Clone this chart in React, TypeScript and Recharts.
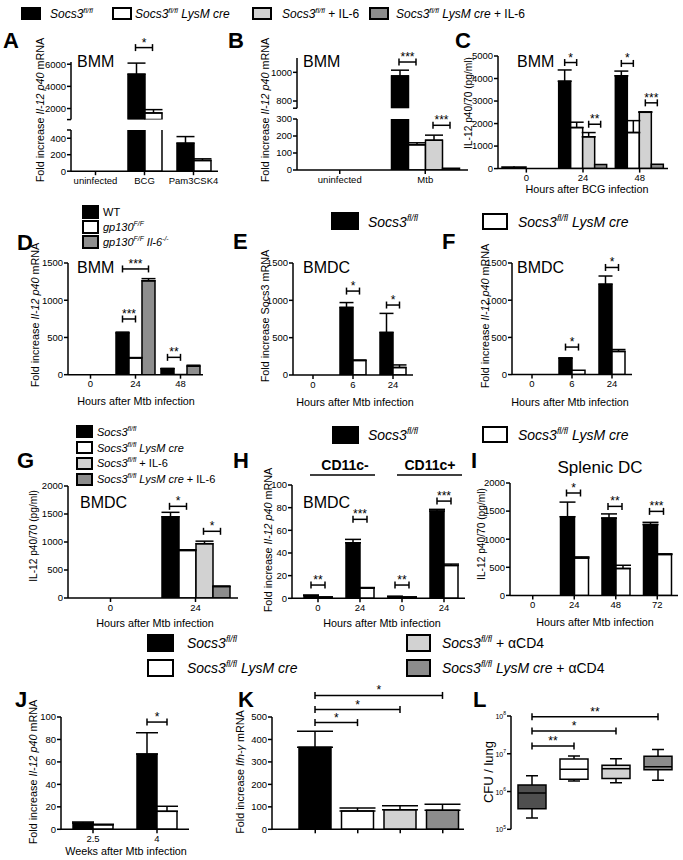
import React from 'react';
import { BarChart, ComposedChart, Bar, XAxis, YAxis, ErrorBar, ReferenceLine, Cell } from 'recharts';

const FONT = '"Liberation Sans", Arial, Helvetica, sans-serif';
const INK = '#000000';
const FLOX = '#000000';
const CRE = '#ffffff';
const IL6 = '#d2d2d2';
const CRE_IL6 = '#8c8c8c';
const GP_IL6 = '#8e8e8e';
const FLOX_BOX = '#4f4f4f';

// sig tuples: [cat1, series1, cat2, series2, y, stars]
type Sig = [number, number, number, number, number, string];

// A - BMM, BCG / Pam3CSK4
const aCats = ['uninfected', 'BCG', 'Pam3CSK4'];
const aFlox = [0, 5100, 340];
const aFloxSem = [0, 1000, 80];
const aCre = [0, 1600, 130];
const aCreSem = [0, 300, 20];
const aSigs: Sig[] = [[1, 0, 1, 1, 7500, '*']];

// B - BMM, Mtb
const bCats = ['uninfected', 'Mtb'];
const bFlox = [0, 975];
const bFloxSem = [0, 40];
const bCre = [0, 148];
const bCreSem = [0, 12];
const bIl6 = [0, 175];
const bIl6Sem = [0, 30];
const bCreIl6 = [0, 10];
const bSigsHigh: Sig[] = [[1, 0, 1, 1, 1072, '***']];
const bSigsLow: Sig[] = [[1, 2, 1, 3, 263, '***']];

// C - BMM IL-12 protein after BCG
const cCats = ['0', '24', '48'];
const cFlox = [70, 3880, 4120];
const cFloxSem = [0, 500, 210];
const cCre = [70, 1820, 1600];
const cCreSem = [0, 240, 530];
const cIl6 = [0, 1410, 2500];
const cIl6Sem = [0, 190, 20];
const cCreIl6 = [0, 180, 190];
const cSigs: Sig[] = [[1, 0, 1, 1, 4710, '*'], [1, 2, 1, 3, 1970, '**'], [2, 0, 2, 1, 4670, '*'], [2, 2, 2, 3, 2920, '***']];

// D - gp130 BMM
const dCats = ['0', '24', '48'];
const dWt = [0, 560, 80];
const dWtSem = [0, 12, 5];
const dGp = [0, 225, 3];
const dGpSem = [0, 5, 0];
const dGpIl6 = [0, 1260, 115];
const dGpIl6Sem = [0, 30, 12];
const dSigs: Sig[] = [[1, 0, 1, 2, 1420, '***'], [1, 0, 1, 1, 748, '***'], [2, 0, 2, 1, 233, '**']];

// E - BMDC Socs3
const eCats = ['0', '6', '24'];
const eFlox = [0, 905, 570];
const eFloxSem = [0, 65, 255];
const eCre = [0, 195, 100];
const eCreSem = [0, 5, 35];
const eSigs: Sig[] = [[1, 0, 1, 1, 1124, '*'], [2, 0, 2, 1, 937, '*']];

// F - BMDC Il-12 p40
const fCats = ['0', '6', '24'];
const fFlox = [0, 220, 1215];
const fFloxSem = [0, 5, 110];
const fCre = [0, 58, 312];
const fCreSem = [0, 0, 25];
const fSigs: Sig[] = [[1, 0, 1, 1, 370, '*'], [2, 0, 2, 1, 1440, '*']];

// G - BMDC IL-12 protein
const gCats = ['0', '24'];
const gFlox = [0, 1450];
const gFloxSem = [0, 80];
const gCre = [0, 850];
const gCreSem = [0, 12];
const gIl6 = [0, 970];
const gIl6Sem = [0, 45];
const gCreIl6 = [0, 205];
const gCreIl6Sem = [0, 8];
const gSigs: Sig[] = [[1, 0, 1, 1, 1637, '*'], [1, 2, 1, 3, 1191, '*']];

// H - sorted BMDC
const hCats = ['neg0', 'neg24', 'pos0', 'pos24'];
const hLabels = ['0', '24', '0', '24'];
const hFlox = [2.5, 49, 1.5, 77];
const hFloxSem = [0.3, 3, 0.2, 1.5];
const hCre = [1, 9, 1, 29];
const hCreSem = [0.2, 0.5, 0.2, 1.2];
const hSigs: Sig[] = [[0, 0, 0, 1, 11.7, '**'], [1, 0, 1, 1, 69.7, '***'], [2, 0, 2, 1, 11.7, '**'], [3, 0, 3, 1, 85.8, '***']];

// I - splenic DC
const iCats = ['0', '24', '48', '72'];
const iFlox = [0, 1400, 1375, 1260];
const iFloxSem = [0, 260, 75, 40];
const iCre = [0, 665, 478, 728];
const iCreSem = [0, 20, 58, 12];
const iSigs: Sig[] = [[1, 0, 1, 1, 1822, '*'], [2, 0, 2, 1, 1584, '**'], [3, 0, 3, 1, 1495, '***']];

// J - in vivo Il-12 p40
const jCats = ['2.5', '4'];
const jFlox = [5.5, 67];
const jFloxSem = [1, 19];
const jCre = [4, 16];
const jCreSem = [0.5, 4.5];
const jSigs: Sig[] = [[1, 0, 1, 1, 95.5, '*']];

// K - Ifn-g
const kCats = ['flox', 'cre', 'flox aCD4', 'cre aCD4'];
const kVals = [365, 82, 87, 85];
const kSem = [72, 13, 18, 27];
const kFills = [FLOX, CRE, IL6, CRE_IL6];
const kSigs: Sig[] = [[0, 0, 1, 0, 475, '*'], [0, 0, 2, 0, 533, '*'], [0, 0, 3, 0, 596, '*']];

// L - CFU box plots
const lCats = ['flox', 'cre', 'flox aCD4', 'cre aCD4'];
const lMin = [2.0e5, 1.9e6, 1.7e6, 2.0e6];
const lQ1 = [3.5e5, 2.1e6, 2.2e6, 3.8e6];
const lMed = [9.1e5, 3.9e6, 4.0e6, 4.5e6];
const lQ3 = [1.5e6, 7.3e6, 5.0e6, 8.6e6];
const lMax = [2.6e6, 8.7e6, 7.4e6, 1.3e7];
const lFills = [FLOX_BOX, CRE, IL6, CRE_IL6];
const lTicks = [1e5, 1e6, 1e7, 1e8];
const lSigs: Sig[] = [[0, 0, 1, 0, 1.6e7, '**'], [0, 0, 2, 0, 4.0e7, '*'], [0, 0, 3, 0, 9.5e7, '**']];

type Series = { vals: number[]; sem?: number[]; fill: string; fills?: string[] };

const YW = 44;
const MT = 50;
const MR = 6;
const XH = 18;
const MB = 2;
const SW = 1.5;

function Bracket(props: any) {
  const { x1, y1, x2, y2 } = props;
  return (
    <g stroke={INK} strokeWidth={SW}>
      <line x1={x1} y1={y1} x2={x2} y2={y2} />
      <line x1={x1} y1={y1 - 3.5} x2={x1} y2={y1 + 3.5} />
      <line x1={x2} y1={y2 - 3.5} x2={x2} y2={y2 + 3.5} />
    </g>
  );
}

// the hidden numeric axis "n" runs over the row index (0 .. n-1) across the padded plot width,
// so a position given in band units (cat + fraction) is rescaled by (n-1)/n
function sigLines(sigs: Sig[], nCats: number, pos: (c: number, s: number) => number) {
  const k = (nCats - 1) / nCats;
  return sigs.map(([c1, s1, c2, s2, y, text], i) => (
    <ReferenceLine
      key={'sig' + i}
      xAxisId="n"
      segment={[{ x: pos(c1, s1) * k, y }, { x: pos(c2, s2) * k, y }]}
      ifOverflow="visible"
      shape={Bracket}
      label={{ value: text, position: 'top', offset: 1, fontSize: 12, fill: INK }}
    />
  ));
}

function BarPanel(p: {
  cats: string[]; labels?: string[]; series: Series[];
  x0: number; x1: number; pad?: number; yTop: number; yBottom: number;
  domain: [number, number]; ticks: number[]; blank?: number[];
  barSize: number; showX?: boolean; sigs?: Sig[];
}) {
  const pad = p.pad ?? 0;
  const showX = p.showX ?? true;
  const blank = p.blank ?? [];
  const [lo, hi] = p.domain;
  const plotW = p.x1 - p.x0;
  const band = (plotW - pad) / p.cats.length;
  const n = p.series.length;
  const off = Math.floor((band - n * p.barSize) / 2);
  const pos = (c: number, s: number) => c + (off + (s + 0.5) * p.barSize) / band;
  const rows = p.cats.map((c, i) => {
    const r: any = { cat: c, ix: i };
    p.series.forEach((s, j) => {
      const v = s.vals[i];
      const e = s.sem ? s.sem[i] : 0;
      r['v' + j] = v > lo ? v : lo;
      r['e' + j] = e > 0 && v > lo && v <= hi ? [0, e] : undefined;
    });
    return r;
  });
  const h = MT + (p.yBottom - p.yTop) + (showX ? XH : 0) + MB;
  return (
    <div style={{ position: 'absolute', left: p.x0 - YW, top: p.yTop - MT }}>
      <BarChart width={YW + plotW + MR} height={h} data={rows} margin={{ top: MT, right: MR, bottom: MB, left: 0 }} barGap={0}>
        <XAxis
          dataKey="cat"
          hide={!showX}
          height={XH}
          padding={{ left: pad, right: 0 }}
          interval={0}
          stroke={INK}
          strokeWidth={SW}
          tickSize={4}
          tick={{ fontSize: 9.5, fill: INK }}
          tickFormatter={(v: any, i: number) => (p.labels ? p.labels[i] : String(v))}
        />
        <XAxis xAxisId="n" dataKey="ix" type="number" domain={['dataMin', 'dataMax']} hide padding={{ left: pad, right: 0 }} />
        <YAxis
          width={YW}
          domain={p.domain}
          ticks={p.ticks}
          interval={0}
          allowDataOverflow
          stroke={INK}
          strokeWidth={SW}
          tickSize={4}
          tickMargin={1}
          tick={{ fontSize: 9.5, fill: INK }}
          tickFormatter={(v: number) => (blank.includes(v) ? '' : String(v))}
        />
        {p.series.map((s, j) => (
          <Bar key={j} dataKey={'v' + j} fill={s.fill} stroke={INK} strokeWidth={SW} barSize={p.barSize} isAnimationActive={false}>
            {s.fills && s.fills.map((f, i) => <Cell key={i} fill={f} />)}
            <ErrorBar dataKey={'e' + j} width={Math.round(p.barSize * 0.55)} stroke={INK} strokeWidth={SW} direction="y" isAnimationActive={false} />
          </Bar>
        ))}
        {sigLines(p.sigs ?? [], p.cats.length, pos)}
      </BarChart>
    </div>
  );
}

const PowTick = (props: any) => {
  const { x, y, payload } = props;
  const e = Math.round(Math.log10(payload.value));
  return (
    <text x={x} y={y} dy={3} textAnchor="end" fontSize={7} fill={INK}>
      10<tspan dy={-3.5} fontSize={5}>{e}</tspan>
    </text>
  );
};

function Whisker(props: any) {
  const { x, y, width, height } = props;
  const top = Math.min(y, y + height);
  const bot = Math.max(y, y + height);
  const cx = x + width / 2;
  return (
    <g stroke={INK} strokeWidth={SW}>
      <line x1={cx} y1={top} x2={cx} y2={bot} />
      <line x1={cx - 6} y1={top} x2={cx + 6} y2={top} />
      <line x1={cx - 6} y1={bot} x2={cx + 6} y2={bot} />
    </g>
  );
}

function Median(props: any) {
  const { x, y, width } = props;
  return <line x1={x} y1={y} x2={x + width} y2={y} stroke={INK} strokeWidth={SW} />;
}

function BoxPanel() {
  const x0 = 511;
  const x1 = 679;
  const yTop = 715.7;
  const yBottom = 829;
  const plotW = x1 - x0;
  const rows = lCats.map((c, i) => ({ cat: c, ix: i, lo: lMin[i], q1: lQ1[i], med: lMed[i], q3: lQ3[i], hi: lMax[i] }));
  return (
    <div style={{ position: 'absolute', left: x0 - YW, top: yTop - MT }}>
      <ComposedChart width={YW + plotW + MR} height={MT + (yBottom - yTop) + XH + MB} data={rows} margin={{ top: MT, right: MR, bottom: MB, left: 0 }}>
        <XAxis xAxisId="w" dataKey="cat" height={XH} interval={0} stroke={INK} strokeWidth={SW} tickSize={4} tickFormatter={() => ''} />
        <XAxis xAxisId="b" dataKey="cat" hide />
        <XAxis xAxisId="m" dataKey="cat" hide />
        <XAxis xAxisId="n" dataKey="ix" type="number" domain={['dataMin', 'dataMax']} hide />
        <YAxis
          scale="log"
          domain={[1e5, 1e8]}
          ticks={lTicks}
          interval={0}
          allowDataOverflow
          width={YW}
          stroke={INK}
          strokeWidth={SW}
          tickSize={4}
          tickMargin={1}
          tick={<PowTick />}
        />
        <Bar xAxisId="w" dataKey={(d: any) => [d.lo, d.hi]} barSize={28} shape={Whisker} isAnimationActive={false} />
        <Bar xAxisId="b" dataKey={(d: any) => [d.q1, d.q3]} barSize={28} stroke={INK} strokeWidth={SW} isAnimationActive={false}>
          {rows.map((_, i) => <Cell key={i} fill={lFills[i]} />)}
        </Bar>
        <Bar xAxisId="m" dataKey={(d: any) => [d.med, d.med]} barSize={28} shape={Median} isAnimationActive={false} />
        {sigLines(lSigs, lCats.length, (c) => c + 0.5)}
      </ComposedChart>
    </div>
  );
}

type Seg = { t: string; i?: boolean; sup?: boolean };
const I = (t: string): Seg => ({ t, i: true });
const P = (t: string): Seg => ({ t });
const SI = (t: string): Seg => ({ t, sup: true, i: true });

function Rich({ x, y, size, segs, anchor = 'start', rot = false }: { x: number; y: number; size: number; segs: Seg[]; anchor?: string; rot?: boolean }) {
  let cur = 0;
  const nodes = segs.map((s, k) => {
    const target = s.sup ? -size * 0.42 : 0;
    const dy = target - cur;
    cur = target;
    return (
      <tspan key={k} dy={dy} fontSize={s.sup ? size * 0.62 : size} fontStyle={s.i ? 'italic' : 'normal'}>
        {s.t}
      </tspan>
    );
  });
  const xx = rot ? x + size * 0.35 : x;
  return (
    <text x={xx} y={y} fontSize={size} textAnchor={anchor as any} fill={INK} transform={rot ? `rotate(-90 ${xx} ${y})` : undefined}>
      {nodes}
    </text>
  );
}

const Swatch = ({ x, y, w, h, fill }: { x: number; y: number; w: number; h: number; fill: string }) => (
  <rect x={x} y={y} width={w} height={h} fill={fill} stroke={INK} strokeWidth={2} />
);

const floxLbl = [I('Socs3'), SI('fl/fl')];
const creLbl = [I('Socs3'), SI('fl/fl'), I(' LysM cre')];
const floxIl6Lbl = [I('Socs3'), SI('fl/fl'), P(' + IL-6')];
const creIl6Lbl = [I('Socs3'), SI('fl/fl'), I(' LysM cre'), P(' + IL-6')];
const floxCd4Lbl = [I('Socs3'), SI('fl/fl'), P(' + \u03B1CD4')];
const creCd4Lbl = [I('Socs3'), SI('fl/fl'), I(' LysM cre'), P(' + \u03B1CD4')];
const il12Lbl = [P('Fold increase '), I('Il-12 p40'), P(' mRNA')];
const protLbl = [P('IL-12 p40/70 (pg/ml)')];

function Overlay() {
  const letters: [string, number, number][] = [
    ['A', 3, 48], ['B', 228, 48], ['C', 455, 48],
    ['D', 17, 250], ['E', 233, 249], ['F', 442, 249],
    ['G', 17, 468], ['H', 233, 468], ['I', 471, 468],
    ['J', 15, 707], ['K', 238, 707], ['L', 473, 707],
  ];
  const titles: [string, number, number][] = [
    ['BMM', 77, 67], ['BMM', 303, 67], ['BMM', 517, 67],
    ['BMM', 77, 273], ['BMDC', 303, 273], ['BMDC', 517, 273],
    ['BMDC', 80, 508], ['BMDC', 303, 508],
  ];
  const xTitles: [string, number, number][] = [
    ['Hours after BCG infection', 587, 193],
    ['Hours after Mtb infection', 136, 405],
    ['Hours after Mtb infection', 355, 406],
    ['Hours after Mtb infection', 570, 406],
    ['Hours after Mtb infection', 155, 627],
    ['Hours after Mtb infection', 382, 627],
    ['Hours after Mtb infection', 595, 626],
    ['Weeks after Mtb infection', 126, 855],
  ];
  return (
    <svg width={683} height={860} style={{ position: 'absolute', left: 0, top: 0, pointerEvents: 'none' }}>
      {/* top legend */}
      <Swatch x={22} y={8} w={18} h={11} fill={FLOX} />
      <Rich x={50} y={18} size={12} segs={floxLbl} />
      <Swatch x={113} y={8} w={18} h={11} fill={CRE} />
      <Rich x={135} y={18} size={12} segs={creLbl} />
      <Swatch x={253} y={8} w={18} h={11} fill={IL6} />
      <Rich x={282} y={18} size={12} segs={floxIl6Lbl} />
      <Swatch x={370} y={8} w={18} h={11} fill={CRE_IL6} />
      <Rich x={396} y={18} size={12} segs={creIl6Lbl} />

      {letters.map(([t, x, y], k) => (
        <text key={'l' + k} x={x} y={y} fontSize={22} fontWeight={700} fill={INK}>{t}</text>
      ))}
      {titles.map(([t, x, y], k) => (
        <text key={'t' + k} x={x} y={y} fontSize={16} fill={INK}>{t}</text>
      ))}
      <text x={600} y={473} fontSize={17} textAnchor="middle" fill={INK}>Splenic DC</text>
      {xTitles.map(([t, x, y], k) => (
        <text key={'x' + k} x={x} y={y} fontSize={10.8} textAnchor="middle" fill={INK}>{t}</text>
      ))}

      {/* y axis titles */}
      <Rich x={40} y={110} size={10.8} segs={il12Lbl} anchor="middle" rot />
      <Rich x={265} y={110} size={10.8} segs={il12Lbl} anchor="middle" rot />
      <Rich x={468} y={103} size={10.2} segs={protLbl} anchor="middle" rot />
      <Rich x={35} y={315} size={10.8} segs={il12Lbl} anchor="middle" rot />
      <Rich x={265} y={316} size={10.8} segs={[P('Fold increase Socs3 mRNA')]} anchor="middle" rot />
      <Rich x={485} y={316} size={10.8} segs={il12Lbl} anchor="middle" rot />
      <Rich x={33} y={536} size={10.2} segs={protLbl} anchor="middle" rot />
      <Rich x={268} y={540} size={10.8} segs={il12Lbl} anchor="middle" rot />
      <Rich x={481} y={534} size={10.2} segs={protLbl} anchor="middle" rot />
      <Rich x={33} y={772} size={10.8} segs={il12Lbl} anchor="middle" rot />
      <Rich x={240} y={772} size={10.8} segs={[P('Fold increase '), I('Ifn-\u03B3'), P(' mRNA')]} anchor="middle" rot />
      <Rich x={488} y={772} size={13} segs={[P('CFU / lung')]} anchor="middle" rot />

      {/* D legend */}
      <Swatch x={83} y={206} w={15} h={12} fill={FLOX} />
      <Rich x={103} y={216} size={11} segs={[P('WT')]} />
      <Swatch x={83} y={221} w={15} h={12} fill={CRE} />
      <Rich x={103} y={231} size={11} segs={[I('gp130'), SI('F/F')]} />
      <Swatch x={83} y={236} w={15} h={12} fill={GP_IL6} />
      <Rich x={103} y={246} size={11} segs={[I('gp130'), SI('F/F'), I(' Il-6'), SI('-/-')]} />

      {/* E/F legend */}
      <Swatch x={332} y={213} w={26} h={16} fill={FLOX} />
      <Rich x={368} y={227} size={14} segs={floxLbl} />
      <Swatch x={483} y={214} w={24} h={15} fill={CRE} />
      <Rich x={518} y={227} size={14} segs={creLbl} />

      {/* G legend */}
      <Swatch x={77} y={426} w={15} h={11} fill={FLOX} />
      <Rich x={97} y={436} size={11} segs={floxLbl} />
      <Swatch x={77} y={442} w={15} h={11} fill={CRE} />
      <Rich x={97} y={452} size={11} segs={creLbl} />
      <Swatch x={77} y={458} w={15} h={11} fill={IL6} />
      <Rich x={97} y={467} size={11} segs={floxIl6Lbl} />
      <Swatch x={77} y={474} w={15} h={11} fill={CRE_IL6} />
      <Rich x={97} y={483} size={11} segs={creIl6Lbl} />

      {/* H/I legend */}
      <Swatch x={333} y={427} w={25} h={16} fill={FLOX} />
      <Rich x={368} y={440} size={14} segs={floxLbl} />
      <Swatch x={483} y={427} w={24} h={15} fill={CRE} />
      <Rich x={518} y={440} size={14} segs={creLbl} />

      {/* H group labels */}
      <line x1={310} y1={475} x2={375} y2={475} stroke={INK} strokeWidth={1.5} />
      <text x={345} y={470} fontSize={14} fontWeight={700} textAnchor="middle" fill={INK}>CD11c-</text>
      <line x1={397} y1={475} x2={462} y2={475} stroke={INK} strokeWidth={1.5} />
      <text x={430} y={470} fontSize={14} fontWeight={700} textAnchor="middle" fill={INK}>CD11c+</text>

      {/* J/K/L legend */}
      <Swatch x={148} y={635} w={25} h={16} fill={FLOX} />
      <Rich x={187} y={648} size={14} segs={floxLbl} />
      <Swatch x={148} y={660} w={25} h={16} fill={CRE} />
      <Rich x={187} y={673} size={14} segs={creLbl} />
      <Swatch x={407} y={635} w={23} h={16} fill={IL6} />
      <Rich x={442} y={648} size={14} segs={floxCd4Lbl} />
      <Swatch x={407} y={660} w={23} h={16} fill={CRE_IL6} />
      <Rich x={442} y={673} size={14} segs={creCd4Lbl} />
    </svg>
  );
}

export default function App() {
  return (
    <div style={{ position: 'absolute', left: 0, top: 0, width: 683, height: 860, background: '#fff', fontFamily: FONT, overflow: 'hidden' }}>
      {/* A: broken axis, upper + lower */}
      <BarPanel cats={aCats} showX={false} x0={71} x1={218} yTop={61.8} yBottom={119.4} domain={[1000, 6200]} ticks={[1000, 2000, 4000, 6000]} blank={[1000]} barSize={17}
        series={[{ vals: aFlox, sem: aFloxSem, fill: FLOX }, { vals: aCre, sem: aCreSem, fill: CRE }]} sigs={aSigs} />
      <BarPanel cats={aCats} x0={71} x1={218} yTop={129.5} yBottom={170.7} domain={[0, 500]} ticks={[0, 200, 400, 500]} blank={[500]} barSize={17}
        series={[{ vals: aFlox, sem: aFloxSem, fill: FLOX }, { vals: aCre, sem: aCreSem, fill: CRE }]} />

      {/* B */}
      <BarPanel cats={bCats} showX={false} x0={297} x1={468} yTop={58} yBottom={108.2} domain={[750, 1100]} ticks={[750, 800, 1000]} blank={[750]} barSize={17}
        series={[{ vals: bFlox, sem: bFloxSem, fill: FLOX }, { vals: bCre, sem: bCreSem, fill: CRE }, { vals: bIl6, sem: bIl6Sem, fill: IL6 }, { vals: bCreIl6, fill: CRE_IL6 }]} sigs={bSigsHigh} />
      <BarPanel cats={bCats} x0={297} x1={468} yTop={118.7} yBottom={169.7} domain={[0, 300]} ticks={[0, 100, 200, 300]} barSize={17}
        series={[{ vals: bFlox, sem: bFloxSem, fill: FLOX }, { vals: bCre, sem: bCreSem, fill: CRE }, { vals: bIl6, sem: bIl6Sem, fill: IL6 }, { vals: bCreIl6, fill: CRE_IL6 }]} sigs={bSigsLow} />

      {/* C */}
      <BarPanel cats={cCats} x0={498} x1={668} yTop={55.7} yBottom={168.3} domain={[0, 5000]} ticks={[0, 1000, 2000, 3000, 4000, 5000]} barSize={12}
        series={[{ vals: cFlox, sem: cFloxSem, fill: FLOX }, { vals: cCre, sem: cCreSem, fill: CRE }, { vals: cIl6, sem: cIl6Sem, fill: IL6 }, { vals: cCreIl6, fill: CRE_IL6 }]} sigs={cSigs} />

      {/* D */}
      <BarPanel cats={dCats} x0={68} x1={203} yTop={263.3} yBottom={375} domain={[0, 1500]} ticks={[0, 500, 1000, 1500]} barSize={13}
        series={[{ vals: dWt, sem: dWtSem, fill: FLOX }, { vals: dGp, sem: dGpSem, fill: CRE }, { vals: dGpIl6, sem: dGpIl6Sem, fill: GP_IL6 }]} sigs={dSigs} />

      {/* E */}
      <BarPanel cats={eCats} x0={293} x1={413} yTop={263.3} yBottom={375.3} domain={[0, 1500]} ticks={[0, 500, 1000, 1500]} barSize={13}
        series={[{ vals: eFlox, sem: eFloxSem, fill: FLOX }, { vals: eCre, sem: eCreSem, fill: CRE }]} sigs={eSigs} />

      {/* F */}
      <BarPanel cats={fCats} x0={512} x1={632} yTop={262.7} yBottom={374.3} domain={[0, 1500]} ticks={[0, 500, 1000, 1500]} barSize={13}
        series={[{ vals: fFlox, sem: fFloxSem, fill: FLOX }, { vals: fCre, sem: fCreSem, fill: CRE }]} sigs={fSigs} />

      {/* G */}
      <BarPanel cats={gCats} x0={68} x1={238} yTop={485.7} yBottom={597.7} domain={[0, 2000]} ticks={[0, 500, 1000, 1500, 2000]} barSize={17}
        series={[{ vals: gFlox, sem: gFloxSem, fill: FLOX }, { vals: gCre, sem: gCreSem, fill: CRE }, { vals: gIl6, sem: gIl6Sem, fill: IL6 }, { vals: gCreIl6, sem: gCreIl6Sem, fill: CRE_IL6 }]} sigs={gSigs} />

      {/* H */}
      <BarPanel cats={hCats} labels={hLabels} x0={292} x1={465} pad={5} yTop={485} yBottom={598.3} domain={[0, 100]} ticks={[0, 20, 40, 60, 80, 100]} barSize={14}
        series={[{ vals: hFlox, sem: hFloxSem, fill: FLOX }, { vals: hCre, sem: hCreSem, fill: CRE }]} sigs={hSigs} />

      {/* I */}
      <BarPanel cats={iCats} x0={510} x1={678} pad={2} yTop={483.3} yBottom={595.7} domain={[0, 2000]} ticks={[0, 500, 1000, 1500, 2000]} barSize={14}
        series={[{ vals: iFlox, sem: iFloxSem, fill: FLOX }, { vals: iCre, sem: iCreSem, fill: CRE }]} sigs={iSigs} />

      {/* J */}
      <BarPanel cats={jCats} x0={61} x1={189} yTop={716.7} yBottom={829} domain={[0, 100]} ticks={[0, 20, 40, 60, 80, 100]} barSize={20}
        series={[{ vals: jFlox, sem: jFloxSem, fill: FLOX }, { vals: jCre, sem: jCreSem, fill: CRE }]} sigs={jSigs} />

      {/* K */}
      <BarPanel cats={kCats} labels={['', '', '', '']} x0={272} x1={464} pad={22} yTop={716.7} yBottom={829} domain={[0, 500]} ticks={[0, 100, 200, 300, 400, 500]} barSize={32}
        series={[{ vals: kVals, sem: kSem, fill: FLOX, fills: kFills }]} sigs={kSigs} />

      {/* L */}
      <BoxPanel />

      <Overlay />
    </div>
  );
}
